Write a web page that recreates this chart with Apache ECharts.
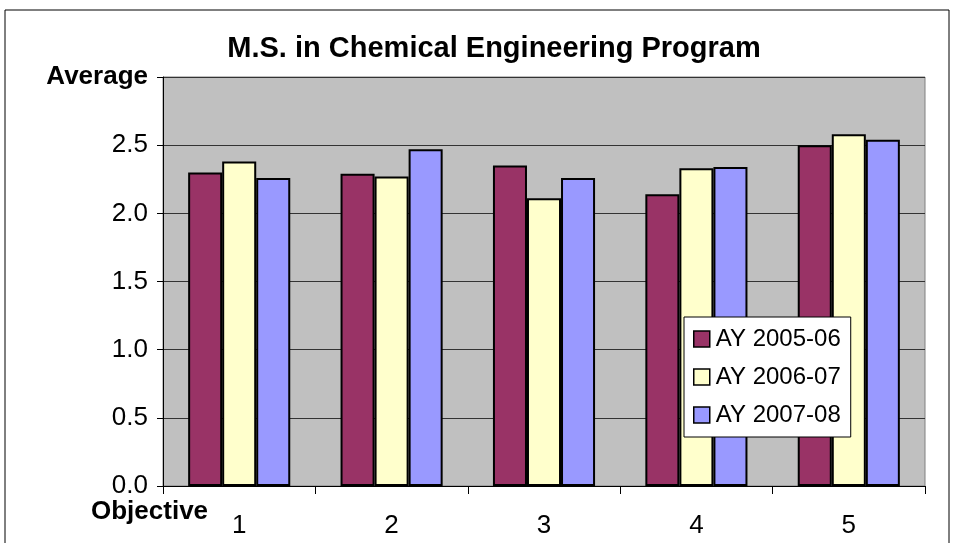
<!DOCTYPE html>
<html>
<head>
<meta charset="utf-8">
<script src="https://cdn.jsdelivr.net/npm/echarts@6/dist/echarts.min.js"></script>
<style>
  html, body { margin: 0; padding: 0; background: #fff; }
  #main { width: 954px; height: 543px; }
</style>
</head>
<body>
<div id="main"></div>
<script>
// data
const objectives = ['1', '2', '3', '4', '5'];
const ay0506 = [2.30, 2.29, 2.35, 2.14, 2.50];
const ay0607 = [2.38, 2.27, 2.11, 2.33, 2.58];
const ay0708 = [2.26, 2.47, 2.26, 2.34, 2.54];
const seriesNames = ['AY 2005-06', 'AY 2006-07', 'AY 2007-08'];
const seriesColors = ['#993366', '#FFFFCC', '#9999FF'];

const font = 'Liberation Sans, Arial, sans-serif';

const chart = echarts.init(document.getElementById('main'));

function barSeries(name, data, color) {
    return {
        name: name,
        type: 'bar',
        data: data,
        barGap: '0%',
        barCategoryGap: '33%',
        itemStyle: { color: color, borderColor: '#000', borderWidth: 2 },
        emphasis: { disabled: true }
    };
}

chart.setOption({
    animation: false,
    title: {
        text: 'M.S. in Chemical Engineering Program',
        left: 489,
        textAlign: 'center',
        top: 29,
        textStyle: { fontFamily: font, fontSize: 29, fontWeight: 'bold', color: '#000' }
    },
    legend: {
        orient: 'vertical',
        left: 684,
        top: 317,
        padding: [10, 10, 10, 9],
        itemWidth: 16,
        itemHeight: 16,
        itemGap: 14,
        icon: 'rect',
        backgroundColor: '#fff',
        borderColor: '#000',
        borderWidth: 1,
        itemStyle: { borderWidth: 1.5 },
        textStyle: { fontFamily: font, fontSize: 24, color: '#000', padding: [0, 0, 0, 1] },
        data: seriesNames
    },
    grid: {
        left: 163,
        right: 29,
        top: 77,
        bottom: 57,
        show: true,
        backgroundColor: '#C0C0C0',
        borderColor: '#808080',
        borderWidth: 1
    },
    xAxis: {
        type: 'category',
        data: objectives,
        axisLine: { lineStyle: { color: '#000', width: 1 } },
        axisTick: { show: true, alignWithLabel: false, length: 8, lineStyle: { color: '#000' } },
        axisLabel: { fontFamily: font, fontSize: 26, color: '#000', margin: 27 }
    },
    yAxis: {
        type: 'value',
        min: 0,
        max: 3,
        interval: 0.5,
        axisLine: { show: true, lineStyle: { color: '#000', width: 1 } },
        axisTick: { show: true, length: 6, lineStyle: { color: '#000' } },
        splitLine: { lineStyle: { color: '#333', width: 1 } },
        axisLabel: {
            fontFamily: font,
            fontSize: 26,
            color: '#000',
            margin: 15,
            formatter: function (v) {
                return v === 3 ? '{b|Average}' : v.toFixed(1);
            },
            rich: { b: { fontFamily: font, fontSize: 26, fontWeight: 'bold', color: '#000' } }
        }
    },
    graphic: [
        {
            type: 'rect',
            shape: { x: 5, y: 10, width: 944, height: 560 },
            style: { fill: null, stroke: '#000', lineWidth: 1 },
            z: -10
        },
        {
            type: 'text',
            left: 91,
            top: 499,
            style: { text: 'Objective', fontFamily: font, fontSize: 26, fontWeight: 'bold', fill: '#000' }
        }
    ],
    series: [
        barSeries(seriesNames[0], ay0506, seriesColors[0]),
        barSeries(seriesNames[1], ay0607, seriesColors[1]),
        barSeries(seriesNames[2], ay0708, seriesColors[2])
    ]
});
</script>
</body>
</html>
